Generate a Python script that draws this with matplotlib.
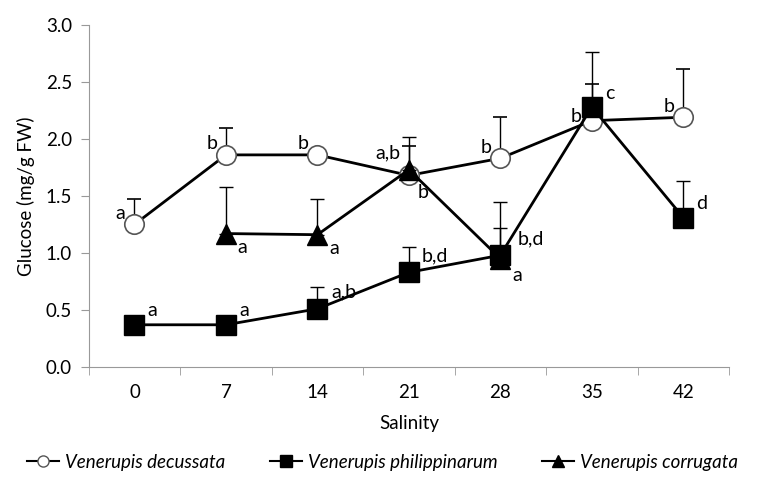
import matplotlib.pyplot as plt
from matplotlib.lines import Line2D
import numpy as np

plt.rcParams['font.family'] = ['Lato', 'DejaVu Sans']

salinity = ['0', '7', '14', '21', '28', '35', '42']

# V. decussata
dec_mean = [1.25, 1.86, 1.86, 1.68, 1.83, 2.16, 2.19]
dec_err = [0.22, 0.24, 0.0, 0.26, 0.36, 0.32, 0.42]
dec_lab = ['a', 'b', 'b', 'b', 'b', 'b', 'b']

# V. philippinarum
phi_mean = [0.37, 0.37, 0.51, 0.83, 0.98, 2.28, 1.31]
phi_err = [0.0, 0.0, 0.19, 0.22, 0.47, 0.48, 0.32]
phi_lab = ['a', 'a', 'a,b', 'b,d', 'b,d', 'c', 'd']

# V. corrugata (7 to 28 only)
cor_x = [1, 2, 3, 4]
cor_mean = [1.17, 1.16, 1.73, 0.95]
cor_err = [0.41, 0.31, 0.29, 0.27]
cor_lab = ['a', 'a', 'a,b', 'a']

names = ['Venerupis decussata', 'Venerupis philippinarum', 'Venerupis corrugata']

x = np.arange(len(salinity))

fig = plt.figure(figsize=(7.65, 4.88), dpi=100)
ax = fig.add_axes([0.116, 0.248, 0.837, 0.701])

ax.errorbar(x, dec_mean, yerr=[np.zeros(7), dec_err], color='black', lw=2,
            marker='o', ms=14, mfc='white', mec='#555555', mew=1.2,
            ecolor='black', elinewidth=1, capsize=5, capthick=1, zorder=2)
ax.errorbar(cor_x, cor_mean, yerr=[np.zeros(4), cor_err], color='black', lw=2,
            marker='^', ms=14, mfc='black', mec='black',
            ecolor='black', elinewidth=1, capsize=5, capthick=1, zorder=3)
ax.errorbar(x, phi_mean, yerr=[np.zeros(7), phi_err], color='black', lw=2,
            marker='s', ms=14, mfc='black', mec='black',
            ecolor='black', elinewidth=1, capsize=5, capthick=1, zorder=4)

# significance letters
fs = 14
dec_off = [(-10, 8), (-10, 8), (-10, 8), (10, -12), (-10, 8), (-11, 3), (-10, 8)]
for i, t in enumerate(dec_lab):
    ox, oy = dec_off[i]
    ax.annotate(t, (x[i], dec_mean[i]), xytext=(ox, oy), textcoords='offset points',
                ha='center', va='center', fontsize=fs, zorder=6)
phi_off = [(13, 10), (13, 10), (19, 12), (19, 12), (22, 12), (13, 10), (13, 10)]
for i, t in enumerate(phi_lab):
    ox, oy = phi_off[i]
    ax.annotate(t, (x[i], phi_mean[i]), xytext=(ox, oy), textcoords='offset points',
                ha='center', va='center', fontsize=fs, zorder=6)
cor_off = [(12, -10), (12, -10), (-15, 12), (12, -12)]
for i, t in enumerate(cor_lab):
    ox, oy = cor_off[i]
    ax.annotate(t, (cor_x[i], cor_mean[i]), xytext=(ox, oy), textcoords='offset points',
                ha='center', va='center', fontsize=fs, zorder=6)

ax.set_xlim(-0.5, 6.5)
ax.set_ylim(0, 3.0)
ax.set_yticks(np.arange(0, 3.01, 0.5))
ax.set_yticklabels(['%.1f' % v for v in np.arange(0, 3.01, 0.5)])
ax.set_xticks(x)
ax.set_xticklabels(salinity)
ax.set_xticks(np.arange(-0.5, 7, 1), minor=True)
ax.tick_params(axis='x', which='major', length=0, pad=12, labelsize=13.5)
ax.tick_params(axis='x', which='minor', length=6, color='#999999', direction='out')
ax.tick_params(axis='y', length=6, color='#999999', labelsize=13.5, pad=6)

for s in ['top', 'right']:
    ax.spines[s].set_visible(False)
ax.spines['left'].set_color('#999999')
ax.spines['bottom'].set_color('#999999')

ax.set_xlabel('Salinity', fontsize=13.5, labelpad=10)
ax.set_ylabel('Glucose (mg/g FW)', fontsize=13.5, labelpad=8)

handles = [
    Line2D([], [], color='black', lw=1.5, marker='o', ms=8, mfc='white', mec='#555555'),
    Line2D([], [], color='black', lw=1.5, marker='s', ms=8, mfc='black', mec='black'),
    Line2D([], [], color='black', lw=1.5, marker='^', ms=8, mfc='black', mec='black'),
]
fig.legend(handles, names, loc='center', bbox_to_anchor=(0.5, 0.053), ncol=3,
           frameon=False, prop={'style': 'italic', 'size': 13.5}, handlelength=1.7,
           handletextpad=0.3, columnspacing=2.4)

fig.savefig('out.png', dpi=100)
